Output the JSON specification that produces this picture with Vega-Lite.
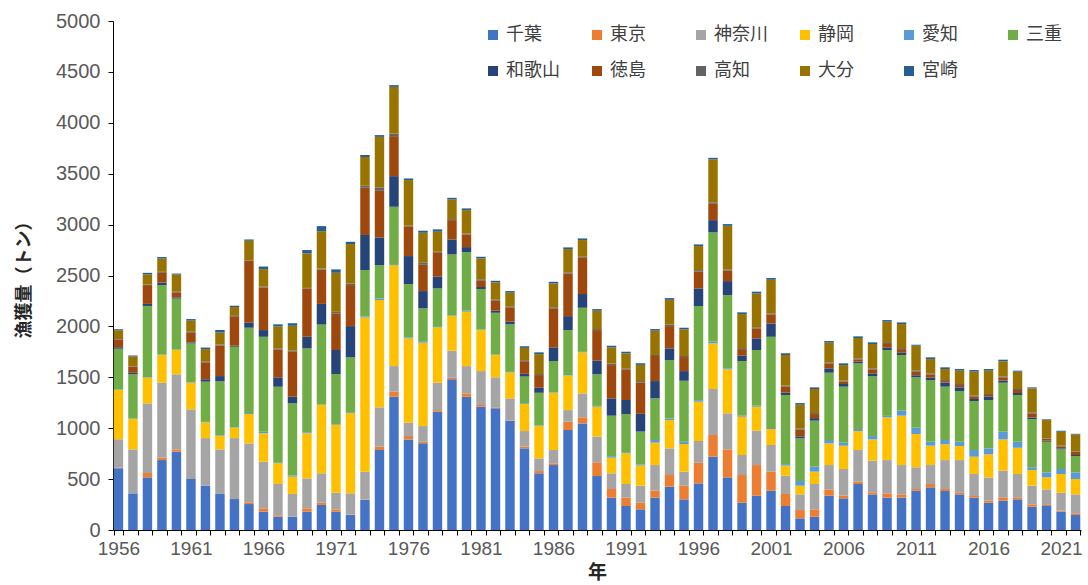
{
  "$schema": "https://vega.github.io/schema/vega-lite/v6.json",
  "width": 968,
  "height": 509,
  "autosize": {"type": "none"},
  "padding": {"left": 113, "top": 21, "right": 7, "bottom": 55},
  "background": "white",
  "config": {"view": {"stroke": null}},
  "data": {"values": [
    {"year":1956,"千葉":606,"東京":5,"神奈川":280,"静岡":485,"愛知":5,"三重":400,"和歌山":15,"徳島":75,"高知":5,"大分":85,"宮崎":10},
    {"year":1957,"千葉":360,"東京":0,"神奈川":432,"静岡":298,"愛知":5,"三重":434,"和歌山":15,"徳島":60,"高知":5,"大分":95,"宮崎":10},
    {"year":1958,"千葉":517,"東京":43,"神奈川":684,"静岡":252,"愛知":5,"三重":700,"和歌山":20,"徳島":185,"高知":5,"大分":100,"宮崎":15},
    {"year":1959,"千葉":687,"東京":23,"神奈川":737,"静岡":271,"愛知":5,"三重":683,"和歌山":25,"徳島":95,"高知":10,"大分":130,"宮崎":15},
    {"year":1960,"千葉":769,"東京":23,"神奈川":737,"静岡":239,"愛知":5,"三重":500,"和歌山":12,"徳島":50,"高知":10,"大分":164,"宮崎":10},
    {"year":1961,"千葉":501,"東京":0,"神奈川":684,"静岡":262,"愛知":5,"三重":380,"和歌山":10,"徳島":95,"高知":10,"大分":110,"宮崎":15},
    {"year":1962,"千葉":435,"東京":0,"神奈川":468,"静岡":154,"愛知":5,"三重":395,"和歌山":24,"徳島":166,"高知":10,"大分":120,"宮崎":15},
    {"year":1963,"千葉":354,"東京":0,"神奈川":438,"静岡":131,"愛知":5,"三重":532,"和歌山":52,"徳島":300,"高知":10,"大分":118,"宮崎":25},
    {"year":1964,"千葉":304,"東京":0,"神奈川":599,"静岡":102,"愛知":5,"三重":790,"和歌山":10,"徳島":290,"高知":10,"大分":80,"宮崎":13},
    {"year":1965,"千葉":255,"東京":17,"神奈川":579,"静岡":288,"愛知":10,"三重":838,"和歌山":49,"徳島":610,"高知":5,"大分":190,"宮崎":13},
    {"year":1966,"千葉":180,"東京":33,"神奈川":458,"静岡":279,"愛知":15,"三重":933,"和歌山":66,"徳島":419,"高知":10,"大分":170,"宮崎":25},
    {"year":1967,"千葉":131,"東京":14,"神奈川":307,"静岡":203,"愛知":5,"三重":747,"和歌山":93,"徳島":274,"高知":10,"大分":216,"宮崎":20},
    {"year":1968,"千葉":131,"東京":0,"神奈川":223,"静岡":170,"愛知":10,"三重":710,"和歌山":65,"徳島":442,"高知":10,"大分":245,"宮崎":25},
    {"year":1969,"千葉":180,"東京":33,"神奈川":294,"静岡":443,"愛知":10,"三重":824,"和歌山":114,"徳島":475,"高知":5,"大分":339,"宮崎":33},
    {"year":1970,"千葉":246,"東京":22,"神奈川":289,"静岡":671,"愛知":5,"三重":785,"和歌山":203,"徳島":337,"高知":10,"大分":367,"宮崎":50},
    {"year":1971,"千葉":180,"東京":23,"神奈川":163,"静岡":665,"愛知":5,"三重":496,"和歌山":236,"徳島":360,"高知":15,"大分":384,"宮崎":33},
    {"year":1972,"千葉":147,"東京":5,"神奈川":208,"静岡":786,"愛知":5,"三重":545,"和歌山":307,"徳島":403,"高知":15,"大分":388,"宮崎":22},
    {"year":1973,"千葉":295,"東京":5,"神奈川":273,"静岡":1515,"愛知":10,"三重":455,"和歌山":344,"徳島":464,"高知":20,"大分":282,"宮崎":20},
    {"year":1974,"千葉":786,"東京":32,"神奈川":387,"静岡":1054,"愛知":15,"三重":328,"和歌山":272,"徳島":458,"高知":33,"大分":497,"宮崎":17},
    {"year":1975,"千葉":1309,"東京":49,"神奈川":252,"静岡":992,"愛知":10,"三重":563,"和歌山":301,"徳島":393,"高知":26,"大分":458,"宮崎":17},
    {"year":1976,"千葉":890,"東京":33,"神奈川":131,"静岡":828,"愛知":10,"三重":524,"和歌山":275,"徳島":288,"高知":10,"大分":448,"宮崎":16},
    {"year":1977,"千葉":851,"東京":16,"神奈川":154,"静岡":819,"愛知":15,"三重":322,"和歌山":170,"徳島":258,"高知":20,"大分":295,"宮崎":20},
    {"year":1978,"千葉":1162,"東京":16,"神奈川":269,"静岡":543,"愛知":5,"三重":378,"和歌山":115,"徳島":235,"高知":10,"大分":197,"宮崎":23},
    {"year":1979,"千葉":1480,"東京":15,"神奈川":266,"静岡":340,"愛知":5,"三重":601,"和歌山":147,"徳島":190,"高知":10,"大分":193,"宮崎":16},
    {"year":1980,"千葉":1309,"東京":33,"神奈川":268,"静岡":534,"愛知":10,"三重":576,"和歌山":49,"徳島":124,"高知":10,"大分":229,"宮崎":17},
    {"year":1981,"千葉":1211,"東京":17,"神奈川":333,"静岡":403,"愛知":5,"三重":398,"和歌山":20,"徳島":61,"高知":15,"大分":205,"宮崎":16},
    {"year":1982,"千葉":1195,"東京":5,"神奈川":300,"静岡":219,"愛知":5,"三重":410,"和歌山":20,"徳島":98,"高知":10,"大分":170,"宮崎":16},
    {"year":1983,"千葉":1074,"東京":5,"神奈川":214,"静岡":255,"愛知":5,"三重":467,"和歌山":26,"徳島":137,"高知":10,"大分":138,"宮崎":16},
    {"year":1984,"千葉":802,"東京":16,"神奈川":154,"静岡":267,"愛知":8,"三重":260,"和歌山":27,"徳島":124,"高知":10,"大分":121,"宮崎":16},
    {"year":1985,"千葉":557,"東京":22,"神奈川":125,"静岡":317,"愛知":5,"三重":322,"和歌山":49,"徳島":125,"高知":10,"大分":196,"宮崎":17},
    {"year":1986,"千葉":638,"東京":17,"神奈川":131,"静岡":562,"愛知":5,"三重":307,"和歌山":134,"徳島":379,"高知":15,"大分":234,"宮崎":16},
    {"year":1987,"千葉":982,"東京":82,"神奈川":114,"静岡":338,"愛知":5,"三重":443,"和歌山":137,"徳島":420,"高知":10,"大分":229,"宮崎":16},
    {"year":1988,"千葉":1047,"東京":60,"神奈川":235,"静岡":403,"愛知":5,"三重":433,"和歌山":135,"徳島":356,"高知":10,"大分":164,"宮崎":16},
    {"year":1989,"千葉":530,"東京":135,"神奈川":252,"静岡":294,"愛知":8,"三重":310,"和歌山":134,"徳島":301,"高知":10,"大分":180,"宮崎":16},
    {"year":1990,"千葉":318,"東京":85,"神奈川":154,"静岡":153,"愛知":15,"三重":398,"和歌山":170,"徳島":327,"高知":15,"大分":159,"宮崎":16},
    {"year":1991,"千葉":236,"東京":82,"神奈川":134,"静岡":301,"愛知":5,"三重":381,"和歌山":138,"徳島":301,"高知":10,"大分":147,"宮崎":16},
    {"year":1992,"千葉":203,"東京":65,"神奈川":167,"静岡":198,"愛知":10,"三重":324,"和歌山":174,"徳島":307,"高知":15,"大分":159,"宮崎":16},
    {"year":1993,"千葉":318,"東京":68,"神奈川":252,"静岡":220,"愛知":26,"三重":409,"和歌山":170,"徳島":246,"高知":10,"大分":239,"宮崎":16},
    {"year":1994,"千葉":426,"東京":114,"神奈川":262,"静岡":278,"愛知":15,"三重":574,"和歌山":115,"徳島":219,"高知":15,"大分":243,"宮崎":17},
    {"year":1995,"千葉":301,"東京":134,"神奈川":138,"静岡":272,"愛知":22,"三重":599,"和歌山":95,"徳島":138,"高知":10,"大分":262,"宮崎":16},
    {"year":1996,"千葉":458,"東京":203,"神奈川":213,"静岡":386,"愛知":15,"三重":925,"和歌山":173,"徳島":165,"高知":15,"大分":236,"宮崎":16},
    {"year":1997,"千葉":720,"東京":213,"神奈川":452,"静岡":448,"愛知":15,"三重":1075,"和歌山":121,"徳島":160,"高知":15,"大分":421,"宮崎":16},
    {"year":1998,"千葉":517,"東京":275,"神奈川":354,"静岡":432,"愛知":10,"三重":720,"和歌山":137,"徳島":105,"高知":10,"大分":428,"宮崎":17},
    {"year":1999,"千葉":268,"東京":272,"神奈川":197,"静岡":376,"愛知":10,"三重":537,"和歌山":52,"徳島":65,"高知":10,"大分":334,"宮崎":17},
    {"year":2000,"千葉":337,"東京":301,"神奈川":337,"静岡":236,"愛知":10,"三重":547,"和歌山":114,"徳島":99,"高知":10,"大分":333,"宮崎":17},
    {"year":2001,"千葉":386,"東京":187,"神奈川":262,"静岡":157,"愛知":10,"三重":896,"和歌山":131,"徳島":89,"高知":10,"大分":330,"宮崎":17},
    {"year":2002,"千葉":236,"東京":118,"神奈川":180,"静岡":98,"愛知":15,"三重":679,"和歌山":25,"徳島":57,"高知":10,"大分":301,"宮崎":17},
    {"year":2003,"千葉":115,"東京":81,"神奈川":154,"静岡":85,"愛知":46,"三重":419,"和歌山":20,"徳島":68,"高知":10,"大分":233,"宮崎":16},
    {"year":2004,"千葉":131,"東京":72,"神奈川":249,"静岡":121,"愛知":49,"三重":452,"和歌山":25,"徳島":40,"高知":10,"大分":236,"宮崎":16},
    {"year":2005,"千葉":337,"東京":62,"神奈川":239,"静岡":213,"愛知":33,"三重":661,"和歌山":43,"徳島":49,"高知":10,"大分":193,"宮崎":16},
    {"year":2006,"千葉":311,"東京":26,"神奈川":262,"静岡":229,"愛知":30,"三重":550,"和歌山":26,"徳島":23,"高知":10,"大分":153,"宮崎":17},
    {"year":2007,"千葉":452,"東京":23,"神奈川":311,"静岡":186,"愛知":20,"三重":645,"和歌山":16,"徳島":23,"高知":10,"大分":200,"宮崎":16},
    {"year":2008,"千葉":350,"東京":20,"神奈川":311,"静岡":209,"愛知":33,"三重":589,"和歌山":27,"徳島":39,"高知":10,"大分":239,"宮崎":16},
    {"year":2009,"千葉":318,"東京":42,"神奈川":327,"静岡":419,"愛知":15,"三重":647,"和歌山":22,"徳島":37,"高知":10,"大分":209,"宮崎":16},
    {"year":2010,"千葉":318,"東京":32,"神奈川":288,"静岡":485,"愛知":49,"三重":547,"和歌山":22,"徳島":36,"高知":10,"大分":236,"宮崎":16},
    {"year":2011,"千葉":386,"東京":17,"神奈川":213,"静岡":327,"愛知":62,"三重":495,"和歌山":20,"徳島":35,"高知":10,"大分":245,"宮崎":10},
    {"year":2012,"千葉":419,"東京":33,"神奈川":186,"静岡":190,"愛知":39,"三重":606,"和歌山":23,"徳島":33,"高知":10,"大分":140,"宮崎":17},
    {"year":2013,"千葉":383,"東京":20,"神奈川":284,"静岡":155,"愛知":42,"三重":524,"和歌山":39,"徳島":16,"高知":10,"大分":108,"宮崎":17},
    {"year":2014,"千葉":350,"東京":20,"神奈川":317,"静岡":138,"愛知":42,"三重":498,"和歌山":36,"徳島":23,"高知":10,"大分":131,"宮崎":16},
    {"year":2015,"千葉":318,"東京":16,"神奈川":216,"静岡":170,"愛知":66,"三重":481,"和歌山":20,"徳島":22,"高知":10,"大分":236,"宮崎":16},
    {"year":2016,"千葉":268,"東京":20,"神奈川":229,"静岡":226,"愛知":59,"三重":475,"和歌山":32,"徳島":17,"高知":10,"大分":229,"宮崎":16},
    {"year":2017,"千葉":288,"東京":33,"神奈川":262,"静岡":307,"愛知":76,"三重":481,"和歌山":20,"徳島":29,"高知":10,"大分":151,"宮崎":16},
    {"year":2018,"千葉":301,"東京":20,"神奈川":229,"静岡":258,"愛知":59,"三重":459,"和歌山":20,"徳島":29,"高知":10,"大分":170,"宮崎":10},
    {"year":2019,"千葉":229,"東京":23,"神奈川":183,"静岡":154,"愛知":27,"三重":474,"和歌山":16,"徳島":40,"高知":10,"大分":235,"宮崎":10},
    {"year":2020,"千葉":236,"東京":10,"神奈川":153,"静岡":118,"愛知":49,"三重":301,"和歌山":10,"徳島":17,"高知":5,"大分":181,"宮崎":7},
    {"year":2021,"千葉":180,"東京":10,"神奈川":176,"静岡":184,"愛知":49,"三重":193,"和歌山":10,"徳島":16,"高知":10,"大分":137,"宮崎":10},
    {"year":2022,"千葉":147,"東京":17,"神奈川":186,"静岡":151,"愛知":65,"三重":161,"和歌山":10,"徳島":32,"高知":5,"大分":164,"宮崎":7}
  ]},
  "transform": [
    {"fold": ["千葉","東京","神奈川","静岡","愛知","三重","和歌山","徳島","高知","大分","宮崎"], "as": ["pref", "t"]},
    {"calculate": "indexof(['千葉','東京','神奈川','静岡','愛知','三重','和歌山','徳島','高知','大分','宮崎'], datum.pref)", "as": "ord"}
  ],
  "mark": {"type": "bar"},
  "encoding": {
    "x": {
      "field": "year", "type": "ordinal",
      "scale": {"paddingInner": 0.35, "paddingOuter": 0.05},
      "axis": {
        "title": "年", "titleFont": "Noto Sans CJK JP", "titleFontSize": 19, "titleFontWeight": "bold", "titleColor": "#262626",
        "titlePadding": 5,
        "labelExpr": "(datum.value - 1956) % 5 == 0 ? datum.value : ''",
        "labelAngle": 0, "labelOverlap": false, "labelFont": "Liberation Sans", "labelFontSize": 19, "labelColor": "#595959", "labelPadding": 4,
        "tickBand": "extent", "tickSize": 5, "tickColor": "#000000", "domainColor": "#000000", "grid": false
      }
    },
    "y": {
      "field": "t", "type": "quantitative", "stack": "zero",
      "scale": {"domain": [0, 5000], "nice": false},
      "axis": {
        "title": "漁獲量（トン）", "titleFont": "Noto Sans CJK JP", "titleFontSize": 18, "titleFontWeight": "bold", "titleColor": "#262626",
        "titleX": -80, "titleY": 254,
        "values": [0,500,1000,1500,2000,2500,3000,3500,4000,4500,5000],
        "format": "d",
        "labelFont": "Liberation Sans", "labelFontSize": 20, "labelColor": "#595959", "labelPadding": 8,
        "tickSize": 5, "tickColor": "#000000", "domainColor": "#000000", "grid": false
      }
    },
    "color": {
      "field": "pref", "type": "nominal",
      "sort": ["千葉","東京","神奈川","静岡","愛知","三重","和歌山","徳島","高知","大分","宮崎"],
      "scale": {
        "domain": ["千葉","東京","神奈川","静岡","愛知","三重","和歌山","徳島","高知","大分","宮崎"],
        "range": ["#4472C4","#ED7D31","#A5A5A5","#FFC000","#5B9BD5","#70AD47","#264478","#9E480E","#636363","#997300","#255E91"]
      },
      "legend": {
        "title": null, "orient": "none", "legendX": 371, "legendY": 5,
        "direction": "horizontal", "columns": 6, "gridAlign": "all",
        "symbolType": "square", "symbolSize": 100, "symbolStrokeWidth": 0,
        "labelFont": "Noto Sans CJK JP", "labelFontSize": 18, "labelColor": "#404040", "labelOffset": 4,
        "columnPadding": 28, "rowPadding": 18
      }
    },
    "order": {"field": "ord", "type": "quantitative", "sort": "ascending"}
  }
}
